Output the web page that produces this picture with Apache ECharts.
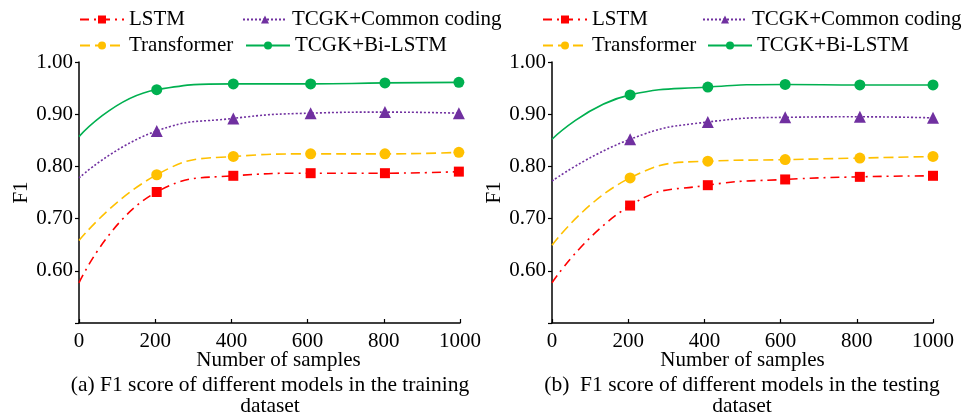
<!DOCTYPE html>
<html>
<head>
<meta charset="utf-8">
<script src="https://cdn.jsdelivr.net/npm/echarts@6/dist/echarts.min.js"></script>
<style>
html,body{margin:0;padding:0;background:#fff;}
#main{width:968px;height:415px;}
</style>
</head>
<body>
<div id="main"></div>
<script>
// ---- data ----
const seriesNames = ['LSTM', 'TCGK+Common coding', 'Transformer', 'TCGK+Bi-LSTM'];
const xTrain = [0, 204, 405, 608, 803, 997];
const xTest = [0, 205, 409, 612, 808, 1000];
const trainLSTM = [0.577, 0.751, 0.782, 0.787, 0.787, 0.790];
const trainCommon = [0.778, 0.868, 0.892, 0.902, 0.904, 0.902];
const trainTransformer = [0.658, 0.784, 0.819, 0.824, 0.824, 0.827];
const trainBiLSTM = [0.857, 0.947, 0.958, 0.958, 0.960, 0.961];
const testLSTM = [0.577, 0.725, 0.764, 0.775, 0.780, 0.782];
const testCommon = [0.772, 0.852, 0.885, 0.894, 0.895, 0.893];
const testTransformer = [0.649, 0.778, 0.810, 0.813, 0.816, 0.819];
const testBiLSTM = [0.852, 0.937, 0.952, 0.957, 0.956, 0.956];
const xTicks = [0, 200, 400, 600, 800, 1000];
const yTicks = [0.60, 0.70, 0.80, 0.90, 1.00];
const captions = [
  '(a) F1 score of different models in the training\ndataset',
  '(b)  F1 score of different models in the testing\ndataset'
];

const FONT = "'Liberation Serif', 'Times New Roman', serif";
const styles = {
  'LSTM': {color: '#ff0000', symbol: 'rect', symbolSize: 10, type: [9, 5, 2, 5]},
  'TCGK+Common coding': {color: '#7030a0', symbol: 'triangle', symbolSize: 12, type: [2, 2]},
  'Transformer': {color: '#ffc000', symbol: 'circle', symbolSize: 11, type: [10, 5]},
  'TCGK+Bi-LSTM': {color: '#00b050', symbol: 'circle', symbolSize: 11, type: 'solid'}
};

function pts(xs, ys) {
  return xs.map((x, i) => i === 0 ? {value: [x, ys[i]], symbol: 'none'} : [x, ys[i]]);
}
function mkSeries(name, xs, ys, idx) {
  const s = styles[name];
  return {
    name: name, type: 'line', xAxisIndex: idx, yAxisIndex: idx,
    data: pts(xs, ys), smooth: 0.5,
    symbol: s.symbol, symbolSize: s.symbolSize,
    itemStyle: {color: s.color},
    lineStyle: {color: s.color, width: 1.6, type: s.type},
    z: 3
  };
}

const grids = [
  {left: 79, right: 508, top: 62, bottom: 92},
  {left: 552, right: 35, top: 62, bottom: 92}
];
function xAxisCfg(i) {
  return {
    type: 'value', gridIndex: i, min: xTicks[0], max: xTicks[xTicks.length - 1], interval: 200,
    name: 'Number of samples', nameLocation: 'middle', nameGap: 27, nameMoveOverlap: false,
    nameTextStyle: {fontFamily: FONT, fontSize: 21, color: '#000',
      padding: i === 0 ? [0, 0, 0, 18] : 0},
    axisLine: {lineStyle: {color: '#000', width: 1.5}},
    axisTick: {inside: true, length: 4, lineStyle: {color: '#000', width: 1.2}},
    axisLabel: {fontFamily: FONT, fontSize: 21, color: '#000', margin: 8,
      formatter: v => String(v)},
    splitLine: {show: false}
  };
}
function yAxisCfg(i) {
  return {
    type: 'value', gridIndex: i, min: 0.5, max: 1.0, interval: 0.1,
    name: 'F1', nameLocation: 'middle', nameGap: 47, nameRotate: 90, nameMoveOverlap: false,
    nameTextStyle: {fontFamily: FONT, fontSize: 21, color: '#000'},
    axisLine: {show: true, lineStyle: {color: '#000', width: 1.5}},
    axisTick: {show: true, inside: false, length: 4, lineStyle: {color: '#000', width: 1.2}},
    axisLabel: {fontFamily: FONT, fontSize: 21, color: '#000', margin: 6,
      formatter: v => (yTicks.some(t => Math.abs(t - v) < 1e-6) ? v.toFixed(2) : '')},
    splitLine: {show: false}
  };
}

function legendAt(name, left, top) {
  return {
    data: [name], left: left, top: top, itemWidth: 44, itemHeight: 10, itemGap: 0,
    textStyle: {fontFamily: FONT, fontSize: 21, color: '#000'},
    padding: 0
  };
}

const legends = [
  legendAt('LSTM', 79, 9), legendAt('TCGK+Common coding', 242, 9),
  legendAt('Transformer', 79, 35), legendAt('TCGK+Bi-LSTM', 245, 35),
  legendAt('LSTM', 542, 9), legendAt('TCGK+Common coding', 702, 9),
  legendAt('Transformer', 542, 35), legendAt('TCGK+Bi-LSTM', 707, 35)
];

const option = {
  backgroundColor: '#fff',
  animation: false,
  textStyle: {fontFamily: FONT, color: '#000'},
  grid: grids,
  xAxis: [xAxisCfg(0), xAxisCfg(1)],
  yAxis: [yAxisCfg(0), yAxisCfg(1)],
  legend: legends,
  title: [
    {text: captions[0], left: 270, top: 375, textAlign: 'center', padding: 0,
     textStyle: {fontFamily: FONT, fontSize: 21.5, fontWeight: 'normal', color: '#000', lineHeight: 21}},
    {text: captions[1], left: 742, top: 375, textAlign: 'center', padding: 0,
     textStyle: {fontFamily: FONT, fontSize: 21.5, fontWeight: 'normal', color: '#000', lineHeight: 21}}
  ],
  series: [
    mkSeries('LSTM', xTrain, trainLSTM, 0),
    mkSeries('TCGK+Common coding', xTrain, trainCommon, 0),
    mkSeries('Transformer', xTrain, trainTransformer, 0),
    mkSeries('TCGK+Bi-LSTM', xTrain, trainBiLSTM, 0),
    mkSeries('LSTM', xTest, testLSTM, 1),
    mkSeries('TCGK+Common coding', xTest, testCommon, 1),
    mkSeries('Transformer', xTest, testTransformer, 1),
    mkSeries('TCGK+Bi-LSTM', xTest, testBiLSTM, 1)
  ]
};
const chart = echarts.init(document.getElementById('main'), null, {renderer: 'canvas'});
chart.setOption(option);
</script>
</body>
</html>
